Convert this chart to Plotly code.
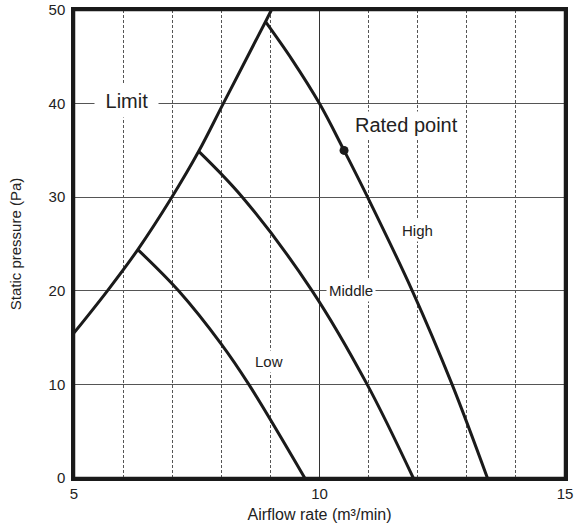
import plotly.graph_objects as go

# Curve data (airflow m3/min, static pressure Pa)
limit_x = [5.0, 5.68, 6.30, 6.97, 7.54, 8.04, 8.90, 9.02]
limit_y = [15.5, 20.0, 24.4, 29.8, 34.9, 40.0, 48.75, 50.0]

high_x = [8.90, 9.44, 10.0, 10.5, 10.98, 11.89, 12.70, 13.42]
high_y = [48.75, 44.7, 40.0, 35.0, 30.0, 20.0, 10.0, 0.0]

middle_x = [7.54, 8.43, 9.85, 10.97, 11.91]
middle_y = [34.9, 30.0, 20.0, 10.0, 0.0]

low_x = [6.30, 7.13, 8.0, 8.56, 9.70]
low_y = [24.4, 20.0, 14.3, 10.0, 0.0]

rated_x = [10.5]
rated_y = [35.0]

labels = ["\u00a0Limit\u00a0", "Rated point", "High", "Middle", "Low"]
label_x = [6.07, 11.77, 12.0, 10.65, 8.97]
label_y = [40.3, 37.7, 26.45, 20.0, 12.4]
label_size = [20, 20, 15, 15, 15]
label_pad = [5, 2, 2, 2, 2]

x_ticks = [5, 10, 15]
y_ticks = [0, 10, 20, 30, 40, 50]

FONT = "Liberation Sans, Arial, sans-serif"
LINE = "#1a1a1a"

fig = go.Figure()
for xs, ys in [(limit_x, limit_y), (high_x, high_y), (middle_x, middle_y), (low_x, low_y)]:
    fig.add_trace(go.Scatter(x=xs, y=ys, mode="lines",
                             line=dict(color=LINE, width=3, shape="spline", smoothing=1.0),
                             hoverinfo="skip", showlegend=False))
fig.add_trace(go.Scatter(x=rated_x, y=rated_y, mode="markers",
                         marker=dict(color=LINE, size=9), showlegend=False))

for t, x, y, s, p in zip(labels, label_x, label_y, label_size, label_pad):
    fig.add_annotation(x=x, y=y, text=t, showarrow=False,
                       font=dict(family=FONT, size=s, color="#222"),
                       bgcolor="white", borderpad=p)

fig.update_xaxes(range=[5, 15], tickvals=x_ticks, ticks="", showgrid=True,
                 gridcolor="#333", gridwidth=1, automargin=False, ticklabeloverflow="allow",
                 minor=dict(dtick=1, showgrid=True, gridcolor="#555", gridwidth=1, griddash="3px,2px"),
                 showline=True, linecolor=LINE, linewidth=2.5, mirror=True,
                 zeroline=False, tickfont=dict(family=FONT, size=15, color="#222"),
                 title=dict(text="Airflow rate (m³/min)", font=dict(family=FONT, size=16, color="#222"),
                            standoff=9))
fig.update_yaxes(range=[0, 50], tickvals=y_ticks, ticks="", showgrid=True,
                 gridcolor="#555", gridwidth=1.2, automargin=False, ticklabeloverflow="allow",
                 ticklabelstandoff=3,
                 showline=True, linecolor=LINE, linewidth=2.5, mirror=True,
                 zeroline=False, tickfont=dict(family=FONT, size=15, color="#222"),
                 title=dict(text="Static pressure (Pa)", font=dict(family=FONT, size=15, color="#222"),
                            standoff=24))

# plot-area frame
fig.add_shape(type="rect", xref="x domain", yref="y domain", x0=0, x1=1, y0=0, y1=1,
              line=dict(color=LINE, width=2.5), layer="above")

fig.update_layout(width=575, height=529, margin=dict(l=74, r=10, t=10, b=51),
                  plot_bgcolor="white", paper_bgcolor="white")

# remove the default page margin so the figure sits at the window's top-left corner
fig.write_html("out.html", config={"displayModeBar": False},
               post_script="document.body.style.margin='0';document.body.style.overflow='hidden';")
